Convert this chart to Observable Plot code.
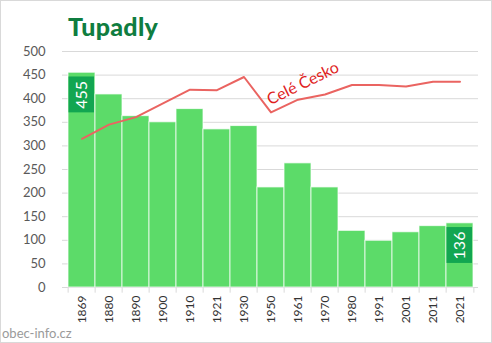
<!DOCTYPE html>
<html>
<head>
<meta charset="utf-8">
<script src="https://cdn.jsdelivr.net/npm/d3@7"></script>
<script src="https://cdn.jsdelivr.net/npm/@observablehq/plot@0.6"></script>
<style>
  html, body { margin: 0; padding: 0; background: #fff; }
  #wrap { position: relative; width: 492px; height: 343px; overflow: hidden; font-family: Lato, "Open Sans", sans-serif; }
  #frame { position: absolute; left: 0; top: 0; right: 0; bottom: 0; border: 1px solid #d9d9d9; pointer-events: none; }
  #title { position: absolute; left: 68px; top: 14px; font-size: 25px; line-height: 25px; font-weight: 900; color: #0f7d40; letter-spacing: 0.3px; }
  #chart { position: absolute; left: 0; top: 44px; }
  #caption { position: absolute; left: 2px; top: 326px; font-size: 13px; line-height: 14px; color: #9a9a9a; }
</style>
</head>
<body>
<div id="wrap">
  <div id="title">Tupadly</div>
  <div id="chart"></div>
  <div id="caption">obec-info.cz</div>
  <div id="frame"></div>
</div>
<script>
const years = ["1869","1880","1890","1900","1910","1921","1930","1950","1961","1970","1980","1991","2001","2011","2021"];
const population = [455,409,363,350,378,335,342,212,263,212,120,99,117,130,136];
const czechiaScaled = [315,345,361,390,419,418,446,371,398,409,429,429,426,436,436];
const yTicks = [0,50,100,150,200,250,300,350,400,450,500];
const labelledYears = ["1869","2021"];
const lineLabel = "Celé Česko";

const data = years.map((year, i) => ({year, pop: population[i], cz: czechiaScaled[i]}));
const labelled = data.filter(d => labelledYears.includes(d.year));

const width = 492, marginLeft = 62, marginRight = 14;
const step = (width - marginLeft - marginRight) / years.length;

const chart = Plot.plot({
  width,
  height: 290,
  marginLeft,
  marginRight,
  marginTop: 7,
  marginBottom: 47,
  style: {fontFamily: "Lato, 'Open Sans', sans-serif", background: "transparent"},
  x: {type: "band", domain: years, padding: 0, axis: null, label: null},
  y: {domain: [0, 500], axis: null, label: null},
  marks: [
    Plot.gridY(yTicks, {stroke: "#d9d9d9", strokeOpacity: 1}),
    Plot.barY(data, {x: "year", y: "pop", fill: "#5cdb69", stroke: "#ffffff", strokeWidth: 1, strokeOpacity: 0.75}),
    Plot.ruleX(years, {x: d => d, y1: 0, y2: -12, dx: -step / 2, stroke: "#d9d9d9"}),
    Plot.ruleX(years.slice(-1), {x: d => d, y1: 0, y2: -12, dx: step / 2, stroke: "#d9d9d9"}),
    Plot.lineY(data, {x: "year", y: "cz", stroke: "#ea6461", strokeWidth: 2}),
    Plot.barY(labelled, {x: "year", y1: d => d.pop - 9, y2: d => d.pop - 85, fill: "#12a651", insetLeft: 0.5, insetRight: 1}),
    Plot.text(labelled, {x: "year", y: d => d.pop - 47, text: d => String(d.pop), rotate: -90, fill: "#ffffff", fontSize: 16}),
    Plot.text([lineLabel], {x: () => "1961", y: () => 432, text: d => d, rotate: -26, dx: 5, fill: "#e01e1e", fontSize: 16}),
    Plot.axisY(yTicks, {tickSize: 0, tickPadding: 17, fontSize: 13, color: "#595959", label: null}),
    Plot.axisX({tickSize: 0, tickRotate: -90, tickPadding: 8, fontSize: 12, color: "#333333", label: null})
  ]
});
document.getElementById("chart").appendChild(chart);
</script>
</body>
</html>
